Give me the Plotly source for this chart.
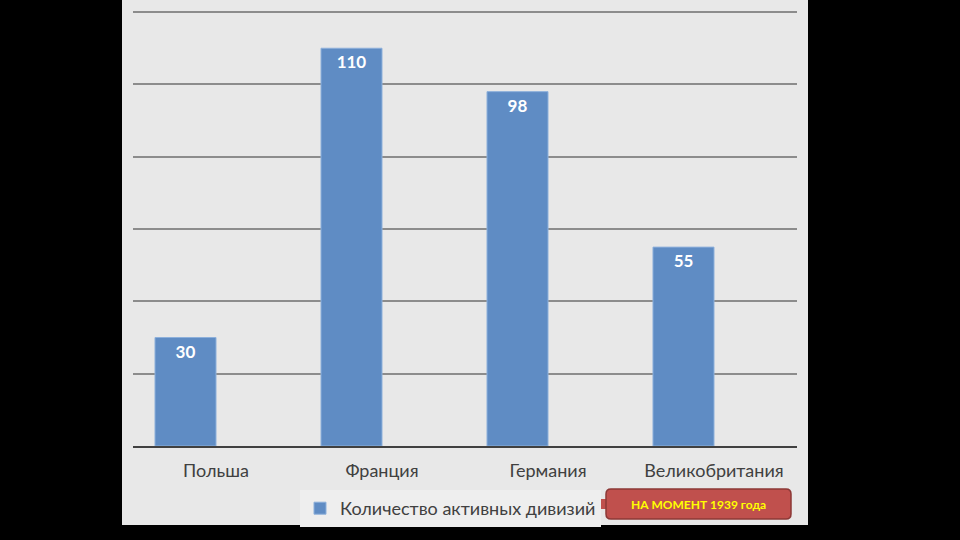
import plotly.graph_objects as go

categories = ["Польша", "Франция", "Германия", "Великобритания"]
values = [30, 110, 98, 55]
values_second = [0, 0, 0, 0]
series_name = "Количество активных дивизий"
note_text = "НА МОМЕНТ 1939 года"

W, H = 960, 540
L, R, T, B = 133, 797, 11, 446  # plot area in pixels


def px(x):
    return (x - L) / (R - L)


def py(y):
    return (B - y) / (B - T)


def rounded_rect(x0, y0, x1, y1, r):
    X0, X1 = px(x0), px(x1)
    Y0, Y1 = py(y1), py(y0)
    rx = r / (R - L)
    ry = r / (B - T)
    return (f"M {X0+rx},{Y1} L {X1-rx},{Y1} Q {X1},{Y1} {X1},{Y1-ry} "
            f"L {X1},{Y0+ry} Q {X1},{Y0} {X1-rx},{Y0} L {X0+rx},{Y0} "
            f"Q {X0},{Y0} {X0},{Y0+ry} L {X0},{Y1-ry} Q {X0},{Y1} {X0+rx},{Y1} Z")


fig = go.Figure()
fig.add_trace(go.Bar(
    x=categories, y=values, name=series_name,
    marker=dict(color="#5f8cc4", line=dict(color="#8db0db", width=1)),
    text=[str(v) for v in values], textposition="inside", insidetextanchor="end",
    textfont=dict(family="Lato", size=17, color="white", weight="bold"),
    constraintext="none", showlegend=True,
))
fig.add_trace(go.Bar(
    x=categories, y=values_second, name=" ",
    marker=dict(color="#c0504d", line=dict(width=0)),
    showlegend=False, hoverinfo="skip",
))

shapes = [
    dict(type="rect", xref="paper", yref="paper", layer="below",
         x0=px(122), x1=px(808), y0=py(525), y1=py(0),
         fillcolor="#e8e8e8", line=dict(width=0)),
    dict(type="rect", xref="paper", yref="paper", layer="above",
         x0=px(599), x1=px(608), y0=py(509), y1=py(499),
         fillcolor="#c0504d", line=dict(width=0)),
    dict(type="path", xref="paper", yref="paper", layer="above",
         path=rounded_rect(606, 489, 791, 519, 5),
         fillcolor="#c0504d", line=dict(color="#8c3836", width=1.5)),
]

fig.update_layout(
    width=W, height=H,
    margin=dict(l=L, r=W - R, t=T, b=H - B, pad=0),
    paper_bgcolor="black", plot_bgcolor="rgba(0,0,0,0)",
    barmode="group", bargap=0.265, bargroupgap=0,
    shapes=shapes,
    showlegend=True,
    legend=dict(orientation="h", x=px(300), xanchor="left", y=py(490), yanchor="top",
                bgcolor="#eeeeee", font=dict(family="Lato", size=18, color="#404040"),
                itemwidth=30),
    annotations=[dict(xref="paper", yref="paper", x=px(698.5), y=py(504),
                      xanchor="center", yanchor="middle",
                      text=note_text, showarrow=False,
                      font=dict(family="Lato", size=12, color="#ffff00", weight="bold"))],
)
fig.update_xaxes(showline=True, linecolor="#404040", linewidth=2, showgrid=False,
                 tickfont=dict(family="Lato", size=18, color="#404040"),
                 ticklabelstandoff=7)
fig.update_yaxes(range=[0, 120.3], dtick=20, showticklabels=False, showgrid=True,
                 gridcolor="#8c8c8c", gridwidth=1.5, zeroline=False, showline=False)

fig.write_html("out.html", config={"displayModeBar": False},
               post_script="document.body.style.margin='0';document.body.style.background='black';")
